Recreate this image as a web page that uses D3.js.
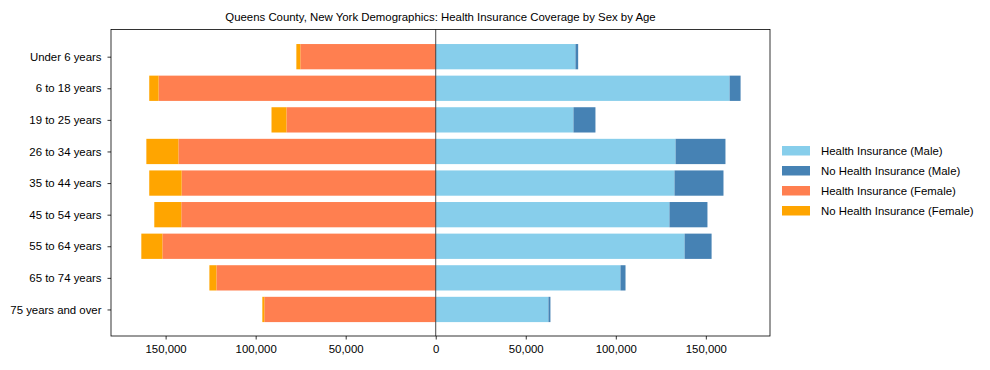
<!DOCTYPE html>
<html><head><meta charset="utf-8">
<script src="https://cdn.jsdelivr.net/npm/d3@7"></script>
<style>body{margin:0;background:#fff}svg{display:block}text{font-family:"Liberation Sans",Arial,sans-serif}</style>
</head><body><svg id="c" width="990" height="370"></svg>
<script>
const categories = ["Under 6 years","6 to 18 years","19 to 25 years","26 to 34 years","35 to 44 years","45 to 54 years","55 to 64 years","65 to 74 years","75 years and over"];
const maleInsured   = [77600, 163200, 76500, 133200, 132600, 129800, 138200, 102600, 62600];
const maleUninsured = [1500, 6100, 12200, 27700, 27200, 21100, 15000, 2800, 1100];
const femaleInsured   = [75200, 153900, 82900, 142900, 141100, 141300, 151800, 121800, 95200];
const femaleUninsured = [2200, 5200, 8300, 17800, 18000, 15000, 11700, 3900, 1100];
const xTicks = [-150000,-100000,-50000,0,50000,100000,150000];
const seriesNames = ["Health Insurance (Male)","No Health Insurance (Male)","Health Insurance (Female)","No Health Insurance (Female)"];
const colors = ["#87CEEB","#4682B4","#FF7F50","#FFA500"];
const titleText = "Queens County, New York Demographics: Health Insurance Coverage by Sex by Age";

const FS = 11.4;
const svg = d3.select("#c");
const L=111, R=770, T=29.5, B=336;
const x = d3.scaleLinear().domain([-180335,185635]).range([L,R]);
const y = d3.scaleLinear().domain([-0.86,8.84]).range([T,B]);
const bh = y(0.4)-y(-0.4);

const g = svg.append("g");
categories.forEach((c,i)=>{
  const segs = [
    [0, maleInsured[i], colors[0]],
    [maleInsured[i], maleInsured[i]+maleUninsured[i], colors[1]],
    [-femaleInsured[i], 0, colors[2]],
    [-(femaleInsured[i]+femaleUninsured[i]), -femaleInsured[i], colors[3]]
  ];
  segs.forEach(s=>{
    g.append("rect").attr("x",x(s[0])).attr("width",x(s[1])-x(s[0]))
     .attr("y",y(i)-bh/2).attr("height",bh).attr("fill",s[2]);
  });
});
// zero line
svg.append("line").attr("x1",x(0)).attr("x2",x(0)).attr("y1",T).attr("y2",B).attr("stroke","#333").attr("stroke-width",0.9);

// axes
const xa = svg.append("g").attr("transform",`translate(0,${B})`)
  .call(d3.axisBottom(x).tickValues(xTicks).tickSize(3.5).tickPadding(5).tickFormat(d=>d3.format(",")(Math.abs(d))));
const ya = svg.append("g").attr("transform",`translate(${L},0)`)
  .call(d3.axisLeft(y).tickValues(d3.range(categories.length)).tickSize(3.5).tickPadding(6).tickFormat(i=>categories[i]));
[xa,ya].forEach(a=>{a.select(".domain").remove();a.selectAll("text").attr("font-size",FS).attr("fill","#000");a.selectAll("line").attr("stroke","#000").attr("stroke-width",0.8);});
svg.append("rect").attr("x",L).attr("y",T).attr("width",R-L).attr("height",B-T).attr("fill","none").attr("stroke","#000").attr("stroke-width",0.8);

svg.append("text").attr("x",(L+R)/2).attr("y",21).attr("text-anchor","middle").attr("font-size",FS).text(titleText);

const lg = svg.append("g");
seriesNames.forEach((n,i)=>{
  const yy = 150.5 + i*20;
  lg.append("rect").attr("x",782).attr("y",yy-4.5).attr("width",28).attr("height",9.5).attr("fill",colors[i]);
  lg.append("text").attr("x",821).attr("y",yy+4).attr("font-size",FS).text(n);
});
</script></body></html>
